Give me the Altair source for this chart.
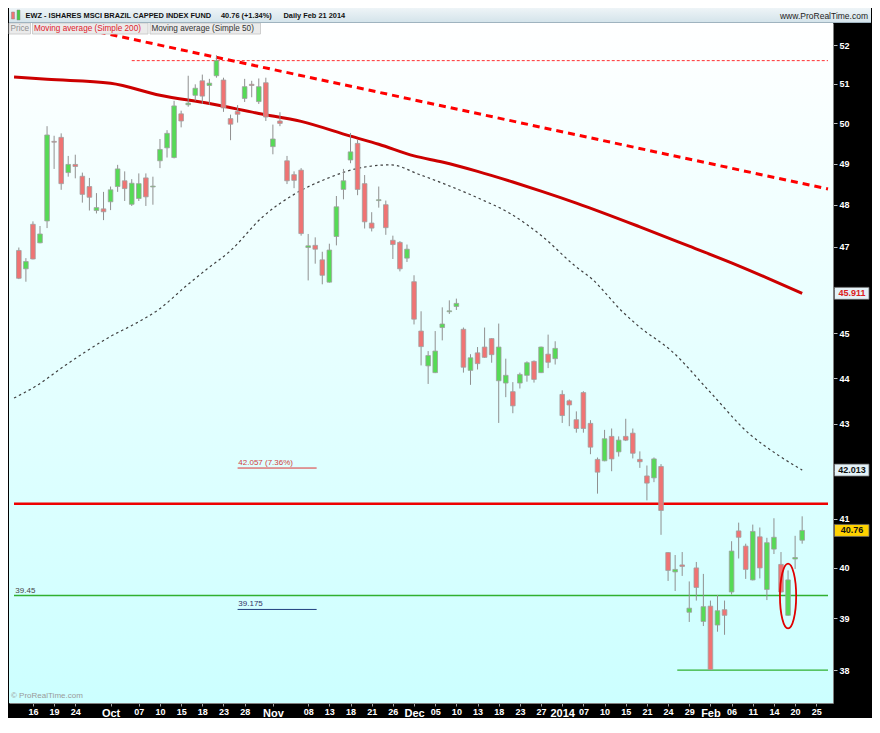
import altair as alt
import pandas as pd

# ---------------- data ----------------
idx = list(range(112))
opens = [46.91, 46.48, 47.53, 47.09, 47.61, 49.55, 49.65, 48.78, 48.98, 48.69,
         48.44, 47.86, 47.90, 48.07, 48.44, 48.58, 48.01, 48.15, 48.65, 48.43,
         49.07, 49.39, 49.15, 50.24, 50.47, 50.71, 51.08, 50.96, 51.21, 51.10,
         50.12, 50.30, 50.63, 50.99, 50.55, 51.03, 49.42, 50.06, 49.07, 48.73,
         48.84, 46.98, 47.03, 46.69, 46.17, 47.24, 48.37, 49.09, 49.50, 48.51,
         47.56, 48.10, 48.00, 47.15, 47.10, 46.73, 46.18, 45.05, 44.27, 44.12,
         45.13, 45.49, 45.61, 45.09, 44.17, 44.56, 44.69, 44.88, 43.94, 43.89,
         43.70, 43.89, 44.06, 44.37, 44.12, 44.53, 44.43, 43.64, 43.50, 43.09,
         43.68, 43.01, 42.24, 42.21, 42.73, 42.40, 42.73, 42.80, 42.24, 41.89,
         41.85, 42.09, 40.31, 39.92, 40.06, 39.12, 40.00, 38.94, 39.24, 38.87,
         39.17, 39.52, 40.75, 40.44, 39.76, 40.63, 39.57, 40.38, 40.07, 39.06,
         40.18, 40.56]
highs = [46.98, 46.73, 47.60, 47.49, 49.93, 49.69, 49.75, 49.19, 49.22, 48.78,
         48.65, 48.28, 48.31, 48.44, 48.97, 48.81, 48.62, 48.76, 48.76, 48.68,
         49.61, 49.83, 50.57, 50.32, 51.21, 50.99, 51.24, 51.13, 51.74, 51.16,
         50.22, 50.46, 51.13, 51.08, 51.14, 51.16, 49.97, 50.28, 49.19, 48.81,
         48.89, 47.30, 47.22, 46.88, 47.07, 48.21, 48.87, 49.76, 49.59, 48.72,
         47.82, 48.44, 48.10, 47.26, 47.13, 47.05, 46.33, 45.50, 44.60, 45.05,
         45.59, 45.75, 45.79, 45.13, 44.53, 44.69, 45.13, 44.89, 45.22, 44.43,
         43.91, 44.12, 44.37, 44.39, 44.70, 44.97, 44.82, 43.73, 43.53, 43.27,
         43.71, 43.08, 42.28, 42.87, 42.90, 42.73, 43.11, 42.90, 42.41, 42.11,
         42.28, 42.14, 40.32, 40.26, 40.32, 39.73, 40.12, 39.88, 39.35, 39.46,
         39.35, 40.54, 40.92, 40.49, 40.88, 40.82, 40.61, 41.01, 40.32, 39.95,
         40.65, 41.05]
lows = [46.24, 46.18, 46.70, 47.08, 47.44, 48.87, 48.36, 48.68, 48.64, 48.05,
        47.86, 47.79, 47.63, 47.87, 48.31, 48.09, 47.97, 48.09, 47.97, 48.00,
        48.89, 49.15, 49.13, 49.90, 50.42, 50.57, 50.49, 50.47, 51.16, 50.29,
        49.58, 50.02, 50.54, 50.66, 50.49, 50.06, 49.23, 49.93, 48.50, 48.40,
        47.26, 46.21, 46.60, 46.12, 46.16, 47.03, 48.13, 49.01, 48.23, 47.43,
        47.36, 47.93, 47.28, 46.71, 46.42, 46.64, 45.20, 44.28, 43.87, 44.11,
        44.84, 45.44, 45.53, 44.12, 43.85, 44.19, 44.45, 44.34, 43.02, 43.58,
        43.23, 43.77, 43.92, 43.90, 44.11, 44.22, 44.30, 43.02, 42.95, 42.81,
        42.81, 42.35, 41.52, 42.20, 41.99, 42.30, 42.63, 42.26, 42.06, 41.38,
        41.76, 40.67, 39.74, 39.54, 39.84, 38.93, 39.35, 38.85, 38.00, 38.74,
        38.68, 39.47, 40.19, 39.78, 39.75, 39.79, 39.36, 40.28, 39.51, 39.05,
        39.98, 40.49]
closes = [46.26, 46.65, 46.71, 47.30, 49.71, 49.53, 48.51, 48.98, 48.93, 48.25,
          48.18, 47.93, 47.83, 48.36, 48.87, 48.39, 48.52, 48.51, 48.19, 48.45,
          49.35, 49.75, 50.44, 50.06, 50.51, 50.89, 50.69, 51.02, 51.60, 50.39,
          49.98, 50.23, 50.93, 50.96, 50.93, 50.16, 49.61, 50.00, 48.58, 48.59,
          47.31, 47.02, 46.94, 46.33, 46.92, 47.95, 48.58, 49.29, 48.37, 47.59,
          47.44, 48.12, 47.45, 47.05, 46.48, 46.94, 45.32, 44.70, 44.50, 44.60,
          45.21, 45.51, 45.68, 44.24, 44.45, 44.32, 44.46, 44.52, 44.69, 44.06,
          43.39, 44.08, 44.34, 43.97, 44.69, 44.35, 44.66, 43.18, 43.41, 42.90,
          42.90, 42.50, 41.97, 42.68, 42.25, 42.65, 42.65, 42.37, 42.19, 41.74,
          42.25, 41.17, 39.95, 39.97, 40.03, 39.20, 39.61, 39.23, 38.01, 39.15,
          39.06, 40.34, 40.62, 39.97, 40.74, 40.00, 40.51, 40.62, 39.52, 39.76,
          40.21, 40.76]

sma200_idx = [-0.68, 4, 13, 20, 27, 34, 40, 47, 51, 56, 60, 65, 70, 74, 79,
              88, 95, 102, 106, 111]
sma200_val = [51.18, 51.12, 51.02, 50.71, 50.50, 50.25, 50.05, 49.68, 49.48,
              49.19, 49.04, 48.81, 48.55, 48.33, 48.04, 47.47, 47.01, 46.55,
              46.27, 45.911]

sma50_idx = [-0.68, 2.7, 6.2, 9.6, 13, 16.4, 19.9, 23.7, 26.7, 29.9, 34.5, 39,
             43.6, 48.2, 52.7, 56.8, 60.5, 65.1, 69.6, 74.2, 78.8, 81.1, 85.6,
             87.9, 92.5, 97.9, 103.4, 107.5, 111]
sma50_val = [43.56, 43.85, 44.24, 44.60, 44.93, 45.21, 45.55, 46.08, 46.48,
             46.89, 47.70, 48.25, 48.63, 48.89, 48.97, 48.73, 48.49, 48.16,
             47.79, 47.24, 46.55, 46.26, 45.48, 45.15, 44.60, 43.70, 42.80,
             42.34, 42.013]

trend_idx = [8, 114.66]
trend_val = [52.48, 48.38]

tick_idx = [2, 5, 8, 13, 17, 20, 23, 26, 29, 32, 36, 41, 44, 47, 50, 53, 56,
            59, 62, 65, 68, 71, 74, 77, 80, 83, 86, 89, 92, 95, 98, 101, 104,
            107, 110, 113]
tick_txt = ["16", "19", "24", "Oct", "07", "10", "15", "18", "23", "28", "Nov",
            "08", "13", "18", "21", "26", "Dec", "05", "10", "13", "18", "23",
            "27", "2014", "07", "10", "15", "21", "24", "29", "Feb", "06", "11",
            "14", "20", "25"]
month_idx = [13, 36, 56, 77, 98]

y_ticks = list(range(38, 53))
y_hidden = [42, 46]   # covered by the last-value boxes in the reference

last_vals = [45.911, 42.013, 40.76]
last_txt = ["45.911", "42.013", "40.76"]

# ---------------- layout ----------------
W, H = 824, 680
X0, X1 = -0.685, 114.66
Y0, Y1 = 37.378, 52.584
FONT = "Liberation Sans"

xs = alt.Scale(domain=[X0, X1], nice=False, zero=False)
ys = alt.Scale(type="log", domain=[Y0, Y1], nice=False)

label_expr = " : ".join(f"datum.value == {i} ? '{t}'" for i, t in zip(tick_idx, tick_txt)) + " : ''"
month_test = "indexof([" + ",".join(str(m) for m in month_idx) + "], datum.value) >= 0"
y_label_expr = "indexof([" + ",".join(str(v) for v in y_hidden) + "], datum.value) >= 0 ? '' : datum.label"

x_axis = alt.Axis(values=tick_idx, labelExpr=label_expr, orient="bottom", grid=False,
                  domainColor="#808080", tickColor="#a0a0a0", tickSize=3,
                  labelColor="white", labelFont=FONT, labelFontWeight="bold",
                  labelFontSize={"condition": {"test": month_test, "value": 11}, "value": 9},
                  labelPadding=1, title=None, labelFlush=False, labelOverlap=False)
y_axis = alt.Axis(values=y_ticks, format="d", labelExpr=y_label_expr, orient="right", grid=False,
                  domainColor="#808080", tickColor="#c0c0c0", tickSize=4,
                  labelColor="white", labelFont=FONT, labelFontWeight="bold",
                  labelFontSize=9, labelPadding=2, title=None, labelOverlap=False)


def X(f):
    return alt.X(f, type="quantitative", scale=xs, axis=x_axis)


def Y(f):
    return alt.Y(f, type="quantitative", scale=ys, axis=y_axis)


one = pd.DataFrame({"a": [0]})

candles = pd.DataFrame({"i": idx, "o": opens, "h": highs, "l": lows, "c": closes})
candles["col"] = ["#55db55" if c >= o else "#f07373" for o, c in zip(opens, closes)]

grad = {"gradient": "linear", "x1": 0, "x2": 0, "y1": 0, "y2": 1,
        "stops": [{"offset": 0, "color": "#ffffff"}, {"offset": 1, "color": "#ccffff"}]}
head_grad = {"gradient": "linear", "x1": 0, "x2": 0, "y1": 0, "y2": 1,
             "stops": [{"offset": 0, "color": "#eef4f7"}, {"offset": 1, "color": "#d3e3ea"}]}

bg = alt.Chart(one).mark_rect(fill=grad).encode(
    x=alt.value(0), x2=alt.value(W), y=alt.value(0), y2=alt.value(H))

# horizontal levels
lvl_red = alt.Chart(pd.DataFrame({"x1": [X0], "x2": [X1], "v": [41.31]})).mark_rule(
    color="#ee0000", strokeWidth=2.5).encode(x=X("x1"), x2="x2", y=Y("v"))
lvl_green = alt.Chart(pd.DataFrame({"x1": [X0, 93.3], "x2": [X1, X1], "v": [39.45, 38.0]})).mark_rule(
    color="#30b030", strokeWidth=1.4).encode(x=X("x1"), x2="x2", y=Y("v"))
lvl_high = alt.Chart(pd.DataFrame({"x1": [16.0], "x2": [X1], "v": [51.60]})).mark_rule(
    color="#ff3030", strokeWidth=1, strokeDash=[3, 2]).encode(x=X("x1"), x2="x2", y=Y("v"))

trend = alt.Chart(pd.DataFrame({"i": trend_idx, "v": trend_val})).mark_line(
    color="#ff0000", strokeWidth=3, strokeDash=[7, 5], clip=True).encode(x=X("i"), y=Y("v"))

sma50 = alt.Chart(pd.DataFrame({"i": sma50_idx, "v": sma50_val})).mark_line(
    color="#404040", strokeWidth=1.2, strokeDash=[2.5, 3], interpolate="monotone", clip=True
).encode(x=X("i"), y=Y("v"))
sma200 = alt.Chart(pd.DataFrame({"i": sma200_idx, "v": sma200_val})).mark_line(
    color="#cc0000", strokeWidth=3, interpolate="monotone", clip=True
).encode(x=X("i"), y=Y("v"))

wicks = alt.Chart(candles).mark_rule(color="#909090", strokeWidth=1).encode(
    x=X("i"), y=Y("l"), y2="h")
bodies = alt.Chart(candles).mark_bar(size=4.6, stroke="#a0a0a0", strokeWidth=0.8).encode(
    x=X("i"), y=Y("o"), y2="c", fill=alt.Fill("col:N", scale=None))

# annotations
ann_lines = alt.Chart(pd.DataFrame({"x1": [31.0, 31.0], "x2": [42.2, 42.2], "v": [42.057, 39.175],
                                    "col": ["#dd3333", "#1f3f7f"]})).mark_rule(strokeWidth=1).encode(
    x=X("x1"), x2="x2", y=Y("v"), color=alt.Color("col:N", scale=None))
ann_text = alt.Chart(pd.DataFrame({"i": [31.1, 31.1, -0.5], "v": [42.057, 39.175, 39.45],
                                   "t": ["42.057 (7.36%)", "39.175", "39.45"],
                                   "col": ["#d04040", "#333366", "#444444"]})).mark_text(
    align="left", baseline="bottom", dy=-1, fontSize=8, font=FONT).encode(
    x=X("i"), y=Y("v"), text="t:N", color=alt.Color("col:N", scale=None))

ellipse_path = ("M 0.25 0 C 0.25 0.5523 0.138 1 0 1 C -0.138 1 -0.25 0.5523 -0.25 0 "
                "C -0.25 -0.5523 -0.138 -1 0 -1 C 0.138 -1 0.25 -0.5523 0.25 0 Z")
ellipse = alt.Chart(pd.DataFrame({"i": [109], "v": [39.44]})).mark_point(
    shape=ellipse_path, size=4200, filled=False, color="#e00000", strokeWidth=1.8, opacity=1).encode(
    x=X("i"), y=Y("v"))

# legend row
leg = pd.DataFrame({"x1": [0, 23.5, 141], "x2": [21.5, 139, 251.5],
                    "t": ["Price", "Moving average (Simple 200)", "Moving average (Simple 50)"],
                    "col": ["#909090", "#e0202a", "#333333"]})
leg_box = alt.Chart(leg).mark_rect(fill="#ebebeb", stroke="#c4c4c4", strokeWidth=0.8).encode(
    x=alt.X("x1:Q", scale=None), x2="x2", y=alt.value(0), y2=alt.value(11))
leg_txt = alt.Chart(leg).mark_text(align="left", baseline="middle", fontSize=8.2, font=FONT, dx=1.5).encode(
    x=alt.X("x1:Q", scale=None), y=alt.value(6), text="t:N", color=alt.Color("col:N", scale=None))

# header bar
header = alt.Chart(one).mark_rect(fill=head_grad).encode(
    x=alt.value(0), x2=alt.value(W + 38), y=alt.value(-15), y2=alt.value(0))
header_line = alt.Chart(one).mark_rule(color="#9fb3bf", strokeWidth=1).encode(
    x=alt.value(0), x2=alt.value(W + 38), y=alt.value(-0.5))
icon = alt.Chart(pd.DataFrame({"x1": [2.5, 8.0], "x2": [5.5, 11.0], "y1": [-11, -13], "y2": [-4, -3],
                               "col": ["#f07373", "#44cc44"]})).mark_rect(stroke="#888", strokeWidth=0.5).encode(
    x=alt.X("x1:Q", scale=None), x2="x2", y=alt.Y("y1:Q", scale=None), y2="y2",
    fill=alt.Fill("col:N", scale=None))
head_txt = alt.Chart(pd.DataFrame({"x": [16.6, 212, 274.5],
                                   "t": ["EWZ - ISHARES MSCI BRAZIL CAPPED INDEX FUND",
                                         "40.76 (+1.34%)", "Daily  Feb 21 2014"]})).mark_text(
    align="left", baseline="middle", fontSize=7.4, fontWeight="bold", font=FONT, color="#111111").encode(
    x=alt.X("x:Q", scale=None), y=alt.value(-7.5), text="t:N")
site_txt = alt.Chart(one).mark_text(align="right", baseline="middle", fontSize=8.5, font=FONT,
                                    color="#222222", text="www.ProRealTime.com").encode(
    x=alt.value(W + 35), y=alt.value(-7.5))
copy_txt = alt.Chart(one).mark_text(align="left", baseline="bottom", fontSize=8, font=FONT,
                                    color="#9a9a9a", text="\u00a9 ProRealTime.com").encode(
    x=alt.value(2), y=alt.value(H - 3))

# last-value boxes on the price axis
boxes_df = pd.DataFrame({"v": last_vals, "t": last_txt,
                         "fill": ["#e4f2f7", "#e4f2f7", "#ffd200"],
                         "tc": ["#dd2020", "#111111", "#111111"]})
boxes = alt.Chart(boxes_df).mark_rect(yOffset=-6, y2Offset=6, stroke="#666666", strokeWidth=0.8).encode(
    x=alt.value(W + 1.5), x2=alt.value(W + 36), y=Y("v"), y2="v", fill=alt.Fill("fill:N", scale=None))
boxes_txt = alt.Chart(boxes_df).mark_text(align="center", baseline="middle", fontSize=9,
                                          fontWeight="bold", font=FONT).encode(
    x=alt.value(W + 19), y=Y("v"), text="t:N", color=alt.Color("tc:N", scale=None))

chart = alt.layer(
    bg, lvl_high, lvl_red, lvl_green, trend, sma50, sma200, wicks, bodies,
    ann_lines, ann_text, ellipse, copy_txt, leg_box, leg_txt,
    header, header_line, icon, head_txt, site_txt, boxes, boxes_txt
).properties(width=W, height=H, padding=0, background="black").configure_view(stroke=None)

chart.save("out.html", embed_options={"renderer": "svg", "actions": False})
